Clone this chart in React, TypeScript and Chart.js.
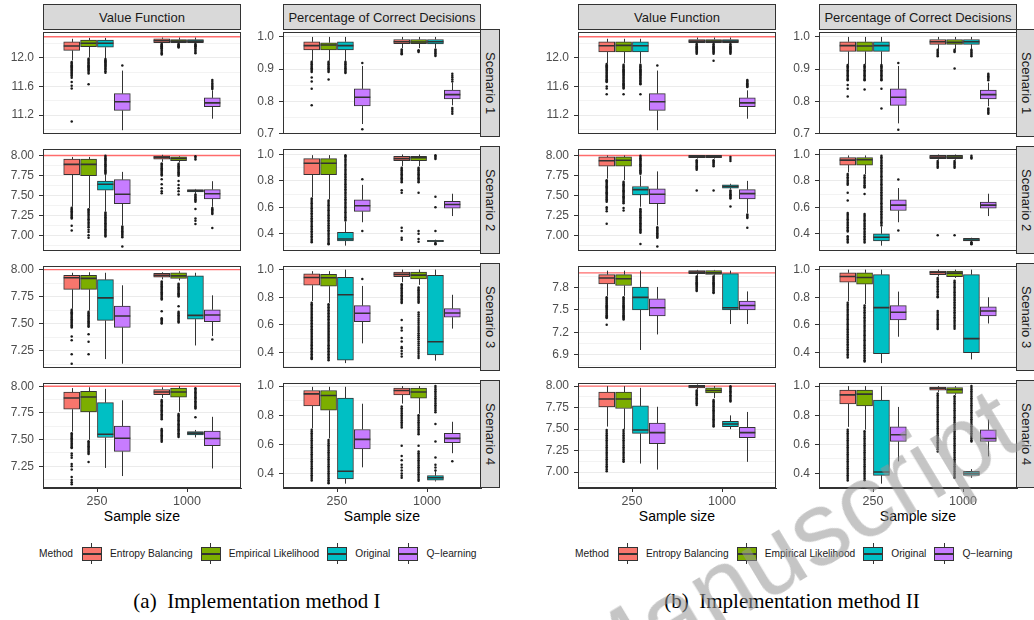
import React, { useEffect, useRef } from 'react';
import { Chart, registerables } from 'chart.js';
Chart.register(...registerables);

const FONT = "'Liberation Sans', Arial, Helvetica, sans-serif";

// ---------- categories / labels ----------
const methods = ['Entropy Balancing', 'Empirical Likelihood', 'Original', 'Q\u2212learning'];
const sampleSizes = ['250', '1000'];
const scenarios = ['Scenario 1', 'Scenario 2', 'Scenario 3', 'Scenario 4'];
const measures = ['Value Function', 'Percentage of Correct Decisions'];
const captions = ['(a)\u2002Implementation method I', '(b)\u2002Implementation method II'];
const colors = ['#F8766D', '#7CAE00', '#00BFC4', '#C77CFF'];
const truthVF = [12.29, 8.0, 8.0, 8.0];

// ---------- axis limits & tick labels ----------
const yLimVF_I = [[10.94, 12.354], [6.805, 8.078], [7.09, 8.032], [7.046, 8.028]];
const yLimPCD_I = [[0.6997, 1.0146], [0.271, 1.04], [0.289, 1.025], [0.3, 1.02]];
const yLimVF_II = [[10.94, 12.354], [6.805, 8.078], [6.72, 8.09], [6.816, 8.034]];
const yLimPCD_II = [[0.6997, 1.0146], [0.271, 1.04], [0.289, 1.025], [0.3, 1.02]];
const ticksVF_I = [[11.2, 11.6, 12.0], [7.0, 7.25, 7.5, 7.75, 8.0], [7.25, 7.5, 7.75, 8.0], [7.25, 7.5, 7.75, 8.0]];
const ticksVF_II = [[11.2, 11.6, 12.0], [7.0, 7.25, 7.5, 7.75, 8.0], [6.9, 7.2, 7.5, 7.8], [7.0, 7.25, 7.5, 7.75, 8.0]];
const ticksPCD = [[0.7, 0.8, 0.9, 1.0], [0.4, 0.6, 0.8, 1.0], [0.4, 0.6, 0.8, 1.0], [0.4, 0.6, 0.8, 1.0]];
const decVF_I = [1, 2, 2, 2];
const decVF_II = [1, 2, 1, 2];

// ---------- box statistics: [lower whisker, Q1, median, Q3, upper whisker]
// order: n=250 (EB, EL, Orig, Q), then n=1000 (EB, EL, Orig, Q)
const vfI1 = [[11.96, 12.101, 12.161, 12.219, 12.262], [12.0, 12.153, 12.2, 12.245, 12.275], [11.99, 12.144, 12.2, 12.245, 12.275], [10.99, 11.265, 11.387, 11.5, 11.82],
  [12.2, 12.21, 12.236, 12.262, 12.28], [12.2, 12.21, 12.23, 12.25, 12.28], [12.2, 12.21, 12.23, 12.25, 12.28], [11.15, 11.318, 11.37, 11.44, 11.545]];
const vfI1Out = [[11.94, 11.925, 11.91, 11.895, 11.88, 11.865, 11.85, 11.835, 11.82, 11.805, 11.79, 11.775, 11.76, 11.745, 11.72, 11.66, 11.61, 11.57, 11.11],
  [11.985, 11.97, 11.955, 11.94, 11.925, 11.91, 11.895, 11.88, 11.865, 11.85, 11.835, 11.82, 11.8, 11.78, 11.63],
  [11.98, 11.965, 11.95, 11.935, 11.92, 11.905, 11.89, 11.875, 11.86, 11.845, 11.83, 11.81, 11.79], [11.89],
  [12.19, 12.18, 12.17, 12.16, 12.15, 12.14, 12.13, 12.12, 12.1, 12.08, 12.06, 12.045], [12.19, 12.18, 12.17, 12.16, 12.15, 12.14],
  [12.19, 12.18, 12.17, 12.16, 12.15, 12.135, 12.12, 12.1, 12.08, 12.06], [11.69, 11.665, 11.64, 11.62, 11.6, 11.58, 11.565]];
const pcdI1 = [[0.926, 0.96, 0.973, 0.985, 1.0], [0.926, 0.96, 0.975, 0.982, 1.0], [0.926, 0.96, 0.973, 0.985, 1.0], [0.73, 0.786, 0.813, 0.839, 0.91],
  [0.965, 0.979, 0.985, 0.992, 1.0], [0.965, 0.979, 0.984, 0.992, 1.0], [0.965, 0.978, 0.985, 0.992, 1.0], [0.788, 0.808, 0.821, 0.835, 0.858]];
const pcdI1Out = [[0.923, 0.919, 0.915, 0.911, 0.907, 0.903, 0.899, 0.895, 0.891, 0.874, 0.862, 0.839, 0.788],
  [0.923, 0.919, 0.915, 0.911, 0.907, 0.903, 0.899, 0.895, 0.891, 0.868], [0.923, 0.919, 0.915, 0.911, 0.907, 0.903, 0.899, 0.895, 0.891, 0.888], [0.919, 0.714],
  [0.961, 0.957, 0.953, 0.949, 0.946], [0.959, 0.956, 0.953], [0.961, 0.957, 0.953, 0.949, 0.945, 0.941], [0.886, 0.88, 0.874, 0.868, 0.862, 0.78, 0.774, 0.768, 0.762]];

const vfI2 = [[7.357, 7.759, 7.888, 7.953, 7.981], [7.338, 7.747, 7.888, 7.953, 7.981], [7.3, 7.564, 7.638, 7.677, 7.754], [7.124, 7.397, 7.514, 7.696, 7.794],
  [7.92, 7.953, 7.976, 7.993, 8.008], [7.91, 7.934, 7.961, 7.981, 7.99], [7.52, 7.544, 7.556, 7.572, 7.58], [7.357, 7.455, 7.52, 7.572, 7.677]];
const vfI2Out = [[7.345, 7.33, 7.315, 7.3, 7.285, 7.27, 7.255, 7.24, 7.225, 7.21, 7.12, 7.06],
  [7.325, 7.31, 7.295, 7.28, 7.26, 7.24, 7.22, 7.2, 7.18, 7.16, 7.14, 7.12, 7.1, 7.07, 7.04, 7.0, 6.97],
  [7.77, 7.785, 7.8, 7.815, 7.83, 7.845, 7.86, 7.875, 7.89, 7.905, 7.92, 7.935, 7.95, 7.965, 7.98, 7.995, 7.285, 7.27, 7.255, 7.24, 7.225, 7.21, 7.195, 7.18, 7.165, 7.15, 7.135, 7.12, 7.105, 7.09, 7.075, 7.06, 7.045, 7.03, 7.015, 7.0, 6.985],
  [7.11, 7.095, 7.08, 7.065, 7.05, 7.035, 7.02, 7.005, 6.99, 6.975, 6.86],
  [7.9, 7.885, 7.87, 7.855, 7.84, 7.825, 7.81, 7.795, 7.78, 7.765, 7.75, 7.7, 7.64, 7.59, 7.55, 7.525],
  [7.895, 7.88, 7.865, 7.85, 7.835, 7.82, 7.805, 7.79, 7.775, 7.76, 7.745, 7.68, 7.63, 7.59, 7.55, 7.51],
  [7.99, 7.97, 7.95, 7.51, 7.495, 7.48, 7.465, 7.45, 7.435, 7.42, 7.33, 7.21, 7.18, 7.14], [7.34, 7.325, 7.31, 7.295, 7.28, 7.265, 7.09]];
const pcdI2 = [[0.675, 0.847, 0.934, 0.969, 0.995], [0.66, 0.847, 0.934, 0.969, 0.995], [0.31, 0.345, 0.36, 0.41, 0.49], [0.487, 0.569, 0.612, 0.657, 0.77],
  [0.911, 0.953, 0.969, 0.986, 1.0], [0.911, 0.953, 0.975, 0.986, 1.0], [0.335, 0.34, 0.345, 0.35, 0.355], [0.534, 0.593, 0.621, 0.645, 0.703]];
const pcdI2Out = [[0.667, 0.655, 0.642, 0.63, 0.618, 0.605, 0.593, 0.58, 0.568, 0.556, 0.543, 0.531, 0.518, 0.506, 0.494, 0.481, 0.469, 0.456, 0.444, 0.432, 0.419, 0.407, 0.394, 0.382, 0.37, 0.357, 0.345, 0.336],
  [0.652, 0.64, 0.627, 0.615, 0.602, 0.59, 0.577, 0.565, 0.552, 0.54, 0.527, 0.515, 0.502, 0.49, 0.477, 0.465, 0.452, 0.44, 0.427, 0.415, 0.402, 0.39, 0.377, 0.365, 0.352, 0.34, 0.328, 0.32],
  [0.5, 0.512, 0.525, 0.537, 0.55, 0.562, 0.575, 0.587, 0.6, 0.612, 0.625, 0.637, 0.65, 0.662, 0.675, 0.687, 0.7, 0.712, 0.725, 0.737, 0.75, 0.762, 0.775, 0.787, 0.8, 0.812, 0.825, 0.837, 0.85, 0.862, 0.875, 0.887, 0.9, 0.912, 0.925, 0.937, 0.95, 0.962, 0.975, 0.987, 0.995],
  [0.812, 0.42],
  [0.9, 0.89, 0.88, 0.87, 0.86, 0.85, 0.84, 0.83, 0.82, 0.81, 0.8, 0.79, 0.73, 0.71, 0.445, 0.42, 0.37, 0.355],
  [0.9, 0.89, 0.88, 0.87, 0.86, 0.85, 0.84, 0.83, 0.82, 0.81, 0.8, 0.79, 0.71, 0.42, 0.4, 0.36, 0.34],
  [0.995, 0.985, 0.975, 0.965, 0.68, 0.6, 0.42, 0.33, 0.325, 0.32], []];

const vfI3 = [[7.637, 7.817, 7.925, 7.947, 7.971], [7.62, 7.817, 7.919, 7.947, 7.976], [7.171, 7.529, 7.738, 7.907, 7.971], [7.128, 7.465, 7.57, 7.663, 7.855],
  [7.91, 7.93, 7.947, 7.965, 7.976], [7.9, 7.919, 7.942, 7.971, 7.985], [7.297, 7.541, 7.576, 7.942, 7.971], [7.384, 7.518, 7.579, 7.628, 7.762]];
const vfI3Out = [[7.628, 7.617, 7.606, 7.595, 7.584, 7.573, 7.562, 7.551, 7.54, 7.529, 7.518, 7.507, 7.496, 7.485, 7.474, 7.463, 7.38, 7.346, 7.215, 7.128],
  [7.61, 7.599, 7.588, 7.577, 7.566, 7.555, 7.544, 7.533, 7.522, 7.511, 7.5, 7.489, 7.478, 7.47, 7.4, 7.332, 7.215], [], [],
  [7.89, 7.879, 7.868, 7.857, 7.846, 7.835, 7.824, 7.813, 7.802, 7.791, 7.78, 7.769, 7.758, 7.746, 7.735, 7.724, 7.614, 7.55, 7.539, 7.528, 7.517, 7.506, 7.5],
  [7.87, 7.859, 7.848, 7.837, 7.826, 7.815, 7.804, 7.793, 7.782, 7.771, 7.76, 7.75, 7.66, 7.61, 7.599, 7.588, 7.577, 7.566, 7.555, 7.544, 7.533, 7.522, 7.511],
  [], [7.352]];
const pcdI3 = [[0.773, 0.887, 0.943, 0.97, 0.989], [0.76, 0.88, 0.941, 0.966, 0.989], [0.323, 0.345, 0.818, 0.945, 1.0], [0.466, 0.623, 0.684, 0.739, 0.882],
  [0.909, 0.95, 0.966, 0.982, 1.0], [0.89, 0.932, 0.96, 0.982, 1.0], [0.341, 0.382, 0.478, 0.959, 1.0], [0.573, 0.655, 0.686, 0.718, 0.818]];
const pcdI3Out = [[0.761, 0.75, 0.74, 0.729, 0.718, 0.708, 0.697, 0.686, 0.676, 0.665, 0.654, 0.644, 0.633, 0.622, 0.612, 0.601, 0.59, 0.58, 0.569, 0.558, 0.548, 0.537, 0.526, 0.516, 0.505, 0.494, 0.484, 0.473, 0.462, 0.452, 0.441, 0.43, 0.42, 0.409, 0.398, 0.388, 0.377, 0.366, 0.356, 0.352],
  [0.75, 0.739, 0.728, 0.717, 0.706, 0.695, 0.684, 0.673, 0.662, 0.651, 0.64, 0.629, 0.618, 0.607, 0.596, 0.585, 0.574, 0.563, 0.552, 0.541, 0.53, 0.519, 0.508, 0.497, 0.486, 0.475, 0.464, 0.453, 0.442, 0.431, 0.42, 0.409, 0.398, 0.387, 0.376, 0.365, 0.354, 0.343],
  [], [0.932],
  [0.895, 0.885, 0.875, 0.865, 0.855, 0.845, 0.835, 0.825, 0.815, 0.805, 0.795, 0.785, 0.775, 0.765, 0.759, 0.636, 0.58, 0.56, 0.505, 0.48, 0.44, 0.43, 0.41, 0.39, 0.37],
  [0.87, 0.86, 0.85, 0.84, 0.83, 0.82, 0.81, 0.8, 0.79, 0.78, 0.77, 0.76, 0.69, 0.675, 0.66, 0.645, 0.63, 0.615, 0.6, 0.585, 0.57, 0.555, 0.54, 0.525, 0.51, 0.495, 0.48, 0.465, 0.45, 0.435, 0.42, 0.405, 0.39, 0.375, 0.36],
  [], []];

const vfI4 = [[7.574, 7.784, 7.889, 7.945, 7.982], [7.497, 7.76, 7.898, 7.951, 7.99], [7.234, 7.519, 7.55, 7.846, 7.975], [7.158, 7.389, 7.512, 7.627, 7.868],
  [7.89, 7.92, 7.945, 7.969, 7.99], [7.76, 7.898, 7.945, 7.982, 8.0], [7.52, 7.544, 7.56, 7.574, 7.59], [7.229, 7.442, 7.51, 7.58, 7.713]];
const vfI4Out = [[7.56, 7.548, 7.536, 7.524, 7.512, 7.5, 7.488, 7.476, 7.464, 7.452, 7.44, 7.428, 7.42, 7.37, 7.35, 7.33, 7.27, 7.25, 7.22, 7.15, 7.12, 7.1, 7.08],
  [7.485, 7.473, 7.461, 7.449, 7.437, 7.425, 7.413, 7.401, 7.389, 7.377, 7.365, 7.29], [], [],
  [7.87, 7.858, 7.846, 7.834, 7.822, 7.81, 7.798, 7.786, 7.774, 7.762, 7.75, 7.738, 7.726, 7.714, 7.702, 7.69, 7.6, 7.588, 7.576, 7.564, 7.552, 7.54, 7.528, 7.516, 7.504, 7.492, 7.48],
  [7.74, 7.728, 7.716, 7.704, 7.692, 7.68, 7.668, 7.656, 7.644, 7.632, 7.62, 7.608, 7.596, 7.584, 7.572, 7.56, 7.548, 7.536, 7.524],
  [7.98, 7.968, 7.956, 7.944, 7.932, 7.92, 7.908, 7.896, 7.884, 7.872, 7.86, 7.848, 7.836, 7.824, 7.812, 7.8, 7.79, 7.71], []];
const pcdI4 = [[0.709, 0.864, 0.947, 0.97, 0.995], [0.64, 0.834, 0.936, 0.97, 0.995], [0.33, 0.362, 0.415, 0.918, 0.995], [0.442, 0.569, 0.634, 0.702, 0.879],
  [0.88, 0.94, 0.97, 0.986, 1.0], [0.81, 0.918, 0.96, 0.986, 1.0], [0.345, 0.353, 0.37, 0.385, 0.415], [0.539, 0.612, 0.641, 0.675, 0.755]];
const pcdI4Out = [[0.7, 0.688, 0.676, 0.664, 0.652, 0.64, 0.628, 0.616, 0.604, 0.592, 0.58, 0.568, 0.556, 0.544, 0.532, 0.52, 0.508, 0.496, 0.484, 0.472, 0.46, 0.448, 0.436, 0.424, 0.412, 0.4, 0.388, 0.376, 0.364, 0.352],
  [0.63, 0.618, 0.606, 0.594, 0.582, 0.57, 0.558, 0.546, 0.534, 0.522, 0.51, 0.498, 0.486, 0.474, 0.462, 0.45, 0.438, 0.426, 0.414, 0.402, 0.39, 0.378, 0.366, 0.354, 0.342, 0.332],
  [], [],
  [0.86, 0.848, 0.836, 0.824, 0.812, 0.8, 0.788, 0.776, 0.764, 0.752, 0.74, 0.728, 0.716, 0.59, 0.52, 0.49, 0.46, 0.44, 0.42, 0.4, 0.385, 0.37],
  [0.8, 0.788, 0.776, 0.764, 0.752, 0.74, 0.728, 0.716, 0.704, 0.692, 0.68, 0.67, 0.59, 0.55, 0.538, 0.526, 0.514, 0.502, 0.49, 0.478, 0.466, 0.454, 0.442, 0.43, 0.418, 0.406, 0.394, 0.382, 0.37, 0.358, 0.35],
  [1.0, 0.988, 0.976, 0.964, 0.952, 0.94, 0.928, 0.916, 0.904, 0.892, 0.88, 0.868, 0.856, 0.844, 0.832, 0.82, 0.74, 0.62, 0.51, 0.46, 0.44, 0.42], [0.483]];

const vfII1 = [[11.925, 12.078, 12.166, 12.219, 12.262], [11.92, 12.078, 12.17, 12.219, 12.262], [11.92, 12.078, 12.166, 12.219, 12.262], [10.99, 11.265, 11.387, 11.5, 11.82],
  [12.2, 12.21, 12.23, 12.253, 12.28], [12.2, 12.21, 12.23, 12.253, 12.28], [12.2, 12.21, 12.23, 12.253, 12.28], [11.15, 11.318, 11.37, 11.44, 11.545]];
const vfII1Out = [[11.91, 11.895, 11.88, 11.865, 11.85, 11.835, 11.82, 11.805, 11.79, 11.775, 11.76, 11.745, 11.73, 11.715, 11.7, 11.685, 11.67, 11.66, 11.6, 11.57, 11.49],
  [11.9, 11.885, 11.87, 11.855, 11.84, 11.825, 11.81, 11.795, 11.78, 11.765, 11.75, 11.735, 11.72, 11.705, 11.69, 11.675, 11.66, 11.645, 11.63, 11.615, 11.6, 11.585, 11.57, 11.49],
  [11.9, 11.885, 11.87, 11.855, 11.84, 11.825, 11.81, 11.795, 11.78, 11.765, 11.75, 11.735, 11.72, 11.705, 11.69, 11.675, 11.66, 11.645, 11.63, 11.49], [11.89],
  [12.19, 12.175, 12.16, 12.145, 12.13, 12.115, 12.1, 12.085, 12.07, 12.055], [12.19, 12.175, 12.16, 12.145, 12.13, 12.115, 12.1, 12.085, 12.07, 12.055, 11.957],
  [12.19, 12.175, 12.16, 12.145, 12.13, 12.115, 12.1, 12.085, 12.07, 12.055], [11.69, 11.675, 11.66, 11.645, 11.63, 11.615, 11.6, 11.59]];
const pcdII1 = [[0.915, 0.955, 0.973, 0.985, 1.0], [0.915, 0.955, 0.972, 0.985, 1.0], [0.915, 0.955, 0.973, 0.985, 1.0], [0.732, 0.788, 0.813, 0.839, 0.91],
  [0.962, 0.977, 0.985, 0.992, 1.0], [0.962, 0.977, 0.983, 0.992, 1.0], [0.962, 0.977, 0.985, 0.992, 1.0], [0.785, 0.808, 0.821, 0.835, 0.858]];
const pcdII1Out = [[0.913, 0.909, 0.905, 0.901, 0.897, 0.893, 0.889, 0.885, 0.881, 0.877, 0.873, 0.869, 0.866, 0.851, 0.839, 0.815],
  [0.913, 0.909, 0.905, 0.901, 0.897, 0.893, 0.889, 0.885, 0.881, 0.877, 0.873, 0.869, 0.866, 0.837],
  [0.913, 0.909, 0.905, 0.901, 0.897, 0.893, 0.889, 0.885, 0.881, 0.877, 0.873, 0.869, 0.866, 0.839, 0.778], [0.919, 0.712],
  [0.96, 0.956, 0.952, 0.948, 0.944, 0.94], [0.96, 0.956, 0.953, 0.902], [0.96, 0.956, 0.952, 0.948, 0.944, 0.94],
  [0.886, 0.882, 0.878, 0.874, 0.87, 0.866, 0.778, 0.774, 0.77, 0.766, 0.762]];

const vfII2 = [[7.708, 7.864, 7.934, 7.981, 8.0], [7.69, 7.864, 7.94, 7.981, 8.0], [7.357, 7.505, 7.572, 7.611, 7.747], [7.124, 7.397, 7.514, 7.58, 7.8],
  [7.96, 7.973, 7.985, 8.0, 8.005], [7.96, 7.973, 7.985, 8.0, 8.005], [7.58, 7.591, 7.61, 7.631, 7.645], [7.28, 7.455, 7.521, 7.572, 7.681]];
const vfII2Out = [[7.69, 7.675, 7.66, 7.645, 7.63, 7.615, 7.6, 7.585, 7.57, 7.555, 7.54, 7.525, 7.51, 7.495, 7.48, 7.465, 7.45, 7.435, 7.42, 7.35, 7.33, 7.3, 7.143],
  [7.67, 7.655, 7.64, 7.625, 7.61, 7.595, 7.58, 7.565, 7.55, 7.535, 7.52, 7.505, 7.49, 7.475, 7.46, 7.445, 7.43, 7.415, 7.4, 7.34, 7.31],
  [7.77, 7.785, 7.8, 7.815, 7.83, 7.845, 7.86, 7.875, 7.89, 7.905, 7.92, 7.935, 7.95, 7.965, 7.98, 7.995, 7.33, 7.315, 7.3, 7.285, 7.27, 7.255, 7.24, 7.225, 7.21, 7.195, 7.18, 7.165, 7.15, 7.135, 7.12, 7.105, 7.09, 7.075, 7.06, 7.045, 7.03, 6.89],
  [7.1, 7.085, 7.07, 7.055, 7.04, 7.025, 7.01, 6.995, 6.98, 6.97, 6.86],
  [7.94, 7.925, 7.91, 7.895, 7.88, 7.865, 7.85, 7.835, 7.82, 7.56], [7.94, 7.925, 7.91, 7.895, 7.88, 7.865, 7.56],
  [7.98, 7.955, 7.93, 7.56, 7.545, 7.53, 7.515, 7.5, 7.485, 7.47, 7.46, 7.36], [7.26, 7.245, 7.23, 7.215, 7.093]];
const pcdII2 = [[0.864, 0.92, 0.957, 0.976, 0.993], [0.85, 0.92, 0.96, 0.976, 0.993], [0.31, 0.346, 0.374, 0.4, 0.452], [0.487, 0.576, 0.617, 0.657, 0.746],
  [0.96, 0.969, 0.98, 0.993, 1.0], [0.96, 0.969, 0.98, 0.993, 1.0], [0.34, 0.346, 0.352, 0.365, 0.37], [0.534, 0.593, 0.617, 0.64, 0.703]];
const pcdII2Out = [[0.852, 0.84, 0.828, 0.816, 0.804, 0.792, 0.78, 0.77, 0.71, 0.652, 0.558, 0.546, 0.534, 0.522, 0.51, 0.498, 0.486, 0.474, 0.462, 0.45, 0.438, 0.426, 0.417, 0.382, 0.37, 0.358, 0.346, 0.334],
  [0.84, 0.828, 0.816, 0.804, 0.792, 0.78, 0.768, 0.756, 0.75, 0.7, 0.55, 0.538, 0.526, 0.514, 0.502, 0.49, 0.478, 0.466, 0.454, 0.442, 0.43, 0.418, 0.406, 0.394, 0.382, 0.37, 0.358, 0.346, 0.334],
  [0.463, 0.475, 0.487, 0.499, 0.511, 0.523, 0.535, 0.547, 0.559, 0.571, 0.583, 0.595, 0.607, 0.619, 0.631, 0.643, 0.655, 0.667, 0.679, 0.691, 0.703, 0.715, 0.727, 0.739, 0.751, 0.763, 0.775, 0.787, 0.799, 0.811, 0.823, 0.835, 0.847, 0.859, 0.871, 0.883, 0.895, 0.907, 0.919, 0.931, 0.943, 0.955, 0.967, 0.979, 0.991],
  [0.81, 0.424],
  [0.95, 0.94, 0.93, 0.92, 0.91, 0.9, 0.389], [0.95, 0.94, 0.93, 0.92, 0.91, 0.9, 0.389], [0.99, 0.98, 0.97, 0.335, 0.33, 0.325, 0.32], []];

const vfII3 = [[7.69, 7.85, 7.93, 7.977, 8.03], [7.69, 7.83, 7.92, 7.977, 8.03], [6.96, 7.5, 7.67, 7.81, 8.03], [7.17, 7.42, 7.53, 7.65, 7.81],
  [7.96, 7.99, 8.01, 8.03, 8.04], [7.96, 7.98, 8.0, 8.03, 8.04], [7.31, 7.5, 7.53, 7.99, 8.03], [7.31, 7.5, 7.56, 7.62, 7.75]];
const vfII3Out = [[7.67, 7.655, 7.64, 7.625, 7.61, 7.595, 7.58, 7.565, 7.55, 7.535, 7.52, 7.505, 7.49, 7.475, 7.46, 7.445, 7.43, 7.415, 7.4, 7.39, 7.3],
  [7.67, 7.655, 7.64, 7.625, 7.61, 7.595, 7.58, 7.565, 7.55, 7.535, 7.52, 7.505, 7.49, 7.475, 7.46, 7.445, 7.43, 7.415, 7.4, 7.385, 7.37], [], [],
  [7.95, 7.935, 7.92, 7.905, 7.89, 7.875, 7.86, 7.845, 7.83, 7.815, 7.8, 7.785, 7.77, 7.755],
  [7.95, 7.935, 7.92, 7.905, 7.89, 7.875, 7.86, 7.845, 7.83, 7.815, 7.8, 7.785, 7.77, 7.755, 7.74, 7.73], [], []];
const pcdII3 = [[0.77, 0.909, 0.95, 0.977, 1.0], [0.75, 0.895, 0.943, 0.977, 1.0], [0.323, 0.391, 0.725, 0.964, 1.0], [0.514, 0.636, 0.691, 0.739, 0.841],
  [0.95, 0.964, 0.98, 0.99, 1.0], [0.94, 0.95, 0.975, 0.99, 1.0], [0.35, 0.398, 0.5, 0.964, 1.0], [0.61, 0.664, 0.7, 0.73, 0.8]];
const pcdII3Out = [[0.76, 0.748, 0.736, 0.724, 0.712, 0.7, 0.688, 0.676, 0.664, 0.652, 0.64, 0.628, 0.616, 0.604, 0.592, 0.58, 0.568, 0.556, 0.544, 0.532, 0.52, 0.508, 0.496, 0.484, 0.472, 0.46, 0.448, 0.436, 0.424, 0.412, 0.4, 0.388, 0.376, 0.364],
  [0.74, 0.728, 0.716, 0.704, 0.692, 0.68, 0.668, 0.656, 0.644, 0.632, 0.62, 0.608, 0.596, 0.584, 0.572, 0.56, 0.548, 0.536, 0.524, 0.512, 0.5, 0.488, 0.476, 0.464, 0.452, 0.44, 0.428, 0.416, 0.404, 0.392, 0.38, 0.368, 0.356, 0.344, 0.334],
  [], [],
  [0.94, 0.928, 0.916, 0.904, 0.892, 0.88, 0.868, 0.856, 0.844, 0.832, 0.82, 0.808, 0.8, 0.7, 0.688, 0.676, 0.664, 0.652, 0.64, 0.628, 0.616, 0.604, 0.592, 0.58, 0.57],
  [0.92, 0.908, 0.896, 0.884, 0.872, 0.86, 0.848, 0.836, 0.824, 0.812, 0.8, 0.788, 0.776, 0.764, 0.752, 0.74, 0.728, 0.716, 0.704, 0.692, 0.68, 0.668, 0.656, 0.644, 0.632, 0.62, 0.608, 0.596, 0.584, 0.572],
  [], []];

const vfII4 = [[7.53, 7.758, 7.85, 7.93, 8.0], [7.5, 7.74, 7.85, 7.93, 8.0], [7.1, 7.45, 7.49, 7.77, 7.98], [7.03, 7.33, 7.46, 7.57, 7.76],
  [7.96, 7.98, 7.995, 8.01, 8.02], [7.86, 7.92, 7.95, 7.98, 8.0], [7.5, 7.53, 7.56, 7.59, 7.66], [7.12, 7.4, 7.46, 7.52, 7.7]];
const vfII4Out = [[7.49, 7.47, 7.45, 7.43, 7.41, 7.39, 7.37, 7.35, 7.33, 7.31, 7.29, 7.27, 7.25, 7.23, 7.21, 7.19, 7.17, 7.15, 7.13, 7.11, 7.09, 7.07, 7.05, 7.03, 7.01],
  [7.49, 7.47, 7.45, 7.43, 7.41, 7.39, 7.37, 7.35, 7.33, 7.31, 7.29, 7.27, 7.25, 7.23, 7.21, 7.19, 7.17, 7.15, 7.13, 7.12], [], [],
  [7.95, 7.935, 7.92, 7.905, 7.89, 7.875, 7.86, 7.845, 7.83, 7.815, 7.8, 7.78],
  [7.84, 7.825, 7.81, 7.795, 7.78, 7.765, 7.75, 7.735, 7.72, 7.705, 7.69, 7.675, 7.66, 7.645, 7.63, 7.615, 7.6, 7.585, 7.57, 7.555, 7.54, 7.53],
  [8.0, 7.985, 7.97, 7.955, 7.94, 7.925, 7.91, 7.895, 7.88, 7.865, 7.85, 7.835, 7.82], []];
const pcdII4 = [[0.72, 0.877, 0.94, 0.972, 1.0], [0.7, 0.864, 0.945, 0.972, 1.0], [0.33, 0.387, 0.41, 0.904, 1.0], [0.483, 0.62, 0.666, 0.72, 0.857],
  [0.96, 0.972, 0.985, 0.993, 1.0], [0.94, 0.95, 0.975, 0.99, 1.0], [0.37, 0.387, 0.4, 0.415, 0.43], [0.517, 0.62, 0.64, 0.7, 0.77]];
const pcdII4Out = [[0.7, 0.688, 0.676, 0.664, 0.652, 0.64, 0.628, 0.616, 0.604, 0.592, 0.58, 0.568, 0.556, 0.544, 0.532, 0.52, 0.508, 0.496, 0.484, 0.472, 0.46, 0.448, 0.436, 0.424, 0.412, 0.4, 0.388, 0.376, 0.364, 0.352],
  [0.69, 0.678, 0.666, 0.654, 0.642, 0.63, 0.618, 0.606, 0.594, 0.582, 0.57, 0.558, 0.546, 0.534, 0.522, 0.51, 0.498, 0.486, 0.474, 0.462, 0.45, 0.438, 0.426, 0.414, 0.402, 0.39, 0.378, 0.366, 0.354],
  [], [],
  [0.95, 0.938, 0.926, 0.914, 0.902, 0.89, 0.878, 0.866, 0.854, 0.842, 0.83, 0.818, 0.806, 0.794, 0.782, 0.77, 0.758, 0.746, 0.734, 0.722, 0.71, 0.698, 0.686, 0.674, 0.662, 0.65, 0.638, 0.626, 0.614, 0.602, 0.59, 0.578, 0.566, 0.55],
  [0.93, 0.918, 0.906, 0.894, 0.882, 0.87, 0.858, 0.846, 0.834, 0.822, 0.81, 0.798, 0.786, 0.774, 0.762, 0.75, 0.738, 0.726, 0.714, 0.702, 0.69, 0.678, 0.666, 0.654, 0.642, 0.63, 0.618, 0.606, 0.594, 0.582, 0.57, 0.558, 0.546, 0.534, 0.522, 0.51, 0.498, 0.486, 0.474, 0.462, 0.45, 0.438, 0.426, 0.414, 0.402, 0.39, 0.378, 0.37],
  [1.0, 0.988, 0.976, 0.964, 0.952, 0.94, 0.928, 0.916, 0.904, 0.892, 0.88, 0.868, 0.856, 0.844, 0.832, 0.82, 0.808, 0.796, 0.784, 0.772, 0.76, 0.748, 0.736, 0.724, 0.712, 0.7, 0.688, 0.676, 0.664, 0.652, 0.64, 0.628, 0.62], []];

// ---------- layout ----------
const GRID_COLS = [[43, 283], [578, 819]];
const ROW_TOPS = [29, 146, 263, 380];
const PW = 198;
const PH = 108;
const AXW = 43;
const PAD = 9;
const XAXH = 26;
const offsets = [-0.28125, -0.09375, 0.09375, 0.28125];

type PanelProps = {
  stats: number[][]; outs: number[][]; lim: number[]; majors: number[]; dec: number;
  truth?: number | null; showX: boolean; x: number; y: number;
};

function Panel(p: PanelProps) {
  const ref = useRef<HTMLCanvasElement>(null);
  const cw = AXW + PW + 2;
  const ch = PAD + PH + (p.showX ? XAXH : PAD);
  useEffect(() => {
    const canvas = ref.current!;
    const step = p.majors[1] - p.majors[0];
    const minors: number[] = [];
    for (let v = p.majors[0] - step / 2; v <= p.lim[1] + 1e-9; v += step) {
      if (v >= p.lim[0] - 1e-9) minors.push(+v.toFixed(4));
    }
    const isMajor = (v: number) => p.majors.some((m) => Math.abs(m - v) < 1e-6);
    const allTicks = [...p.majors, ...minors].sort((a, b) => a - b);
    const bw = Math.round(0.178 * PW / 2.2);
    const xOf = (k: number) => Math.floor(k / 4) + 1 + offsets[k % 4];

    const datasets: any[] = methods.map((m, mi) => ({
      type: 'bar',
      label: m,
      data: sampleSizes.map((_, si) => {
        const s = p.stats[si * 4 + mi];
        return { x: si + 1 + offsets[mi], y: [s[1], s[3]] };
      }),
      backgroundColor: colors[mi],
      borderColor: '#333333',
      borderWidth: 1,
      borderSkipped: false,
      barThickness: bw,
      grouped: false,
      order: 2,
    }));
    const pts: { x: number; y: number }[] = [];
    p.outs.forEach((arr, k) => arr.forEach((v) => pts.push({ x: xOf(k), y: v })));
    datasets.push({
      type: 'scatter', label: 'outliers', data: pts,
      pointRadius: 1.25, pointBackgroundColor: '#1a1a1a', pointBorderWidth: 0, order: 1,
    });

    const plugin = {
      id: 'boxparts',
      beforeDatasetsDraw(chart: any) {
        const { ctx, chartArea: a, scales } = chart;
        const X = scales.x, Y = scales.y;
        ctx.save();
        ctx.beginPath();
        ctx.rect(a.left, a.top, a.right - a.left, a.bottom - a.top);
        ctx.clip();
        if (p.truth != null) {
          const yy = Y.getPixelForValue(p.truth);
          ctx.strokeStyle = '#FF6B6B';
          ctx.lineWidth = 1.4;
          ctx.beginPath(); ctx.moveTo(a.left, yy); ctx.lineTo(a.right, yy); ctx.stroke();
        }
        ctx.strokeStyle = '#333333';
        ctx.lineWidth = 1;
        p.stats.forEach((s, k) => {
          const cx = Math.round(X.getPixelForValue(xOf(k))) + 0.5;
          ctx.beginPath();
          ctx.moveTo(cx, Y.getPixelForValue(s[0])); ctx.lineTo(cx, Y.getPixelForValue(s[1]));
          ctx.moveTo(cx, Y.getPixelForValue(s[3])); ctx.lineTo(cx, Y.getPixelForValue(s[4]));
          ctx.stroke();
        });
        ctx.restore();
      },
      afterDatasetsDraw(chart: any) {
        const { ctx, chartArea: a, scales } = chart;
        const X = scales.x, Y = scales.y;
        ctx.save();
        ctx.beginPath();
        ctx.rect(a.left, a.top, a.right - a.left, a.bottom - a.top);
        ctx.clip();
        ctx.strokeStyle = '#333333';
        ctx.lineWidth = 1.6;
        p.stats.forEach((s, k) => {
          const cx = X.getPixelForValue(xOf(k));
          const yy = Y.getPixelForValue(s[2]);
          ctx.beginPath(); ctx.moveTo(cx - bw / 2, yy); ctx.lineTo(cx + bw / 2, yy); ctx.stroke();
        });
        ctx.restore();
      },
      afterDraw(chart: any) {
        const { ctx, chartArea: a } = chart;
        ctx.save();
        ctx.strokeStyle = '#333333';
        ctx.lineWidth = 1;
        ctx.strokeRect(Math.round(a.left) + 0.5, Math.round(a.top) + 0.5, Math.round(a.right - a.left) - 1, Math.round(a.bottom - a.top) - 1);
        ctx.restore();
      },
    };

    const chart = new Chart(canvas, {
      type: 'bar',
      data: { datasets },
      options: {
        responsive: false,
        animation: false,
        devicePixelRatio: 1,
        events: [],
        layout: { padding: { left: 0, right: 2, top: PAD, bottom: p.showX ? 0 : PAD }, autoPadding: false },
        plugins: { legend: { display: false }, tooltip: { enabled: false } },
        scales: {
          x: {
            type: 'linear', min: 0.4, max: 2.6, offset: false, display: p.showX,
            afterBuildTicks: (s: any) => { s.ticks = sampleSizes.map((_, i) => ({ value: i + 1 })); },
            afterFit: (s: any) => { s.height = p.showX ? XAXH : 0; },
            ticks: {
              autoSkip: false, maxRotation: 0, padding: 2, color: '#4D4D4D',
              font: { family: FONT, size: 12.5 },
              callback: (v: any) => sampleSizes[Math.round(Number(v)) - 1] ?? '',
            },
            grid: { offset: false, drawOnChartArea: false, drawTicks: true, tickLength: 4, tickColor: '#333333', color: '#333333' },
            border: { display: true, color: '#333333' },
          },
          y: {
            type: 'linear', min: p.lim[0], max: p.lim[1],
            afterBuildTicks: (s: any) => { s.ticks = allTicks.map((v) => ({ value: v })); },
            afterFit: (s: any) => { s.width = AXW; },
            ticks: {
              autoSkip: false, padding: 5, color: '#4D4D4D',
              font: { family: FONT, size: 12 },
              callback: (v: any) => (isMajor(Number(v)) ? Number(v).toFixed(p.dec) : ''),
            },
            grid: {
              drawTicks: true, tickLength: 4,
              color: (c: any) => (c.tick && isMajor(c.tick.value) ? '#EBEBEB' : '#F3F3F3'),
              tickColor: (c: any) => (c.tick && isMajor(c.tick.value) ? '#333333' : 'rgba(0,0,0,0)'),
              lineWidth: 1,
            },
            border: { display: true, color: '#333333' },
          },
        },
      } as any,
      plugins: [plugin],
    } as any);
    return () => chart.destroy();
  }, []);
  return (
    <canvas
      ref={ref}
      width={cw}
      height={ch}
      style={{ position: 'absolute', left: p.x - AXW, top: p.y - PAD, width: cw, height: ch }}
    />
  );
}

const stripStyle: React.CSSProperties = {
  position: 'absolute', boxSizing: 'border-box', background: '#D9D9D9', border: '1px solid #333333',
  color: '#1A1A1A', fontFamily: FONT, fontSize: 13, display: 'flex', alignItems: 'center', justifyContent: 'center',
  whiteSpace: 'nowrap', overflow: 'hidden',
};

function LegendKey({ color }: { color: string }) {
  return (
    <div style={{ position: 'relative', width: 20, height: 21, flex: '0 0 20px' }}>
      <div style={{ position: 'absolute', left: 9.5, top: 0, width: 1, height: 21, background: '#333333' }} />
      <div style={{ position: 'absolute', left: 0, top: 4, width: 20, height: 14, boxSizing: 'border-box', background: color, border: '1px solid #333333' }} />
      <div style={{ position: 'absolute', left: 0, top: 10, width: 20, height: 1.6, background: '#333333' }} />
    </div>
  );
}

function Legend({ left }: { left: number }) {
  return (
    <div style={{ position: 'absolute', left, top: 543, height: 21, display: 'flex', alignItems: 'center', fontFamily: FONT, fontSize: 10.2, color: '#1A1A1A', whiteSpace: 'nowrap' }}>
      <span style={{ marginRight: 9 }}>Method</span>
      {methods.map((m, i) => (
        <React.Fragment key={m}>
          <LegendKey color={colors[i]} />
          <span style={{ marginLeft: 8, marginRight: i < methods.length - 1 ? 8 : 0 }}>{m}</span>
        </React.Fragment>
      ))}
    </div>
  );
}

const gridData = [
  { vf: [vfI1, vfI2, vfI3, vfI4], vfOut: [vfI1Out, vfI2Out, vfI3Out, vfI4Out], pcd: [pcdI1, pcdI2, pcdI3, pcdI4], pcdOut: [pcdI1Out, pcdI2Out, pcdI3Out, pcdI4Out],
    limVF: yLimVF_I, limPCD: yLimPCD_I, ticksVF: ticksVF_I, decVF: decVF_I },
  { vf: [vfII1, vfII2, vfII3, vfII4], vfOut: [vfII1Out, vfII2Out, vfII3Out, vfII4Out], pcd: [pcdII1, pcdII2, pcdII3, pcdII4], pcdOut: [pcdII1Out, pcdII2Out, pcdII3Out, pcdII4Out],
    limVF: yLimVF_II, limPCD: yLimPCD_II, ticksVF: ticksVF_II, decVF: decVF_II },
];

export default function App() {
  return (
    <div style={{ position: 'fixed', left: 0, top: 0, width: 1034, height: 620, background: '#FFFFFF', overflow: 'hidden' }}>
      {gridData.map((g, gi) => {
        const [c1, c2] = GRID_COLS[gi];
        const elems: React.ReactNode[] = [];
        measures.forEach((m, mi) => {
          const cx = mi === 0 ? c1 : c2;
          elems.push(<div key={`st${gi}${mi}`} style={{ ...stripStyle, left: cx, top: 4, width: PW, height: 26 }}>{m}</div>);
          elems.push(
            <div key={`xl${gi}${mi}`} style={{ position: 'absolute', left: cx, top: 508, width: PW, textAlign: 'center', fontFamily: FONT, fontSize: 14, color: '#000' }}>
              Sample size
            </div>
          );
        });
        scenarios.forEach((s, ri) => {
          const top = ROW_TOPS[ri];
          const last = ri === scenarios.length - 1;
          elems.push(
            <Panel key={`v${gi}${ri}`} stats={g.vf[ri]} outs={g.vfOut[ri]} lim={g.limVF[ri]} majors={g.ticksVF[ri]} dec={g.decVF[ri]}
              truth={truthVF[ri]} showX={last} x={c1} y={top} />
          );
          elems.push(
            <Panel key={`p${gi}${ri}`} stats={g.pcd[ri]} outs={g.pcdOut[ri]} lim={g.limPCD[ri]} majors={ticksPCD[ri]} dec={1}
              truth={null} showX={last} x={c2} y={top} />
          );
          elems.push(
            <div key={`sc${gi}${ri}`} style={{ ...stripStyle, left: c2 + PW - 1, top, width: 20, height: PH, writingMode: 'vertical-rl' }}>{s}</div>
          );
        });
        return (
          <React.Fragment key={gi}>
            {elems}
            <Legend left={gi === 0 ? 39 : 575} />
            <div style={{ position: 'absolute', left: gi === 0 ? 0 : 530, top: 589, width: gi === 0 ? 514 : 524, textAlign: 'center', fontFamily: "'Liberation Serif', 'Times New Roman', serif", fontSize: 21, color: '#000', whiteSpace: 'nowrap' }}>
              {captions[gi]}
            </div>
          </React.Fragment>
        );
      })}
      <div style={{ position: 'absolute', left: 790, top: 545, transform: 'translate(-50%, -50%) rotate(-31deg)', fontFamily: FONT, fontSize: 104, lineHeight: 1, color: 'rgba(150,150,150,0.55)', whiteSpace: 'nowrap', pointerEvents: 'none' }}>
        Manuscript
      </div>
    </div>
  );
}
